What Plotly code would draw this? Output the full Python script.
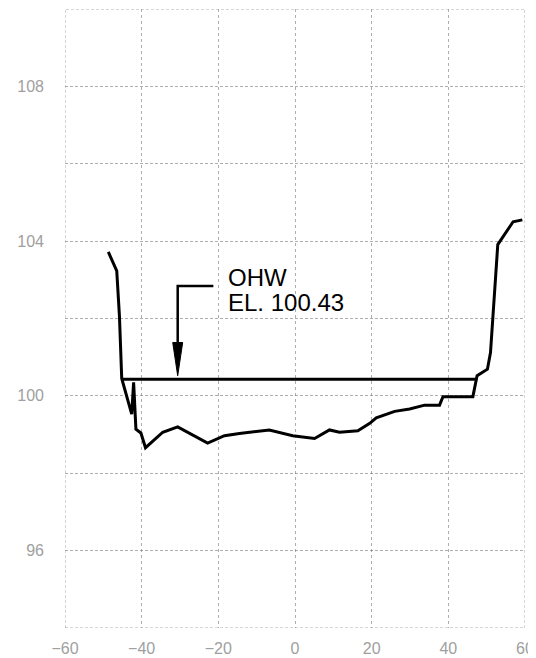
import plotly.graph_objects as go

# ---- data ----
ground_x = [-48.7, -46.5, -45.8, -45.2, -42.6, -42.1, -41.5, -40.2, -39.0, -34.5, -30.6,
            -22.8, -18.4, -14.5, -6.7, -0.6, 5.1, 9.0, 11.6, 16.4, 19.5, 21.2, 26.0,
            29.9, 33.8, 37.7, 38.6, 46.4, 47.5, 50.2, 51.0, 52.9, 56.9, 59.3]
ground_y = [103.72, 103.23, 102.07, 100.45, 99.53, 100.35, 99.14, 99.04, 98.66, 99.06, 99.2,
            98.78, 98.97, 99.03, 99.12, 98.97, 98.9, 99.12, 99.06, 99.1, 99.29, 99.43, 99.6,
            99.66, 99.76, 99.76, 99.98, 99.98, 100.52, 100.69, 101.12, 103.91, 104.5, 104.55]

ohw_elev = 100.43
ohw_x = [-45.2, 47.5]

x_ticks = [-60, -40, -20, 0, 20, 40, 60]
y_grid = [94, 96, 98, 100, 102, 104, 106, 108, 110]
y_labels = ["", "96", "", "100", "", "104", "", "108", ""]

label_lines = ["OHW", "EL. 100.43"]
label_x = -18.0
label_y = [103.07, 102.41]

# leader arrow geometry (data units)
leader_x = [-21.3, -30.6, -30.6]
leader_y = [102.84, 102.84, 101.3]
head_x = [-31.9, -29.3, -30.6, -31.9]
head_y = [101.38, 101.38, 100.52, 101.38]

GRID = "rgba(120,120,120,0.6)"
TICKFONT = dict(family="Liberation Sans, Arial, sans-serif", size=16, color="#a0a0a0")

# the page body has a default 8px margin; the figure is sized to compensate
fig = go.Figure()

fig.add_trace(go.Scatter(x=ground_x, y=ground_y, mode="lines",
                         line=dict(color="black", width=3), hoverinfo="skip"))
fig.add_trace(go.Scatter(x=ohw_x, y=[ohw_elev, ohw_elev], mode="lines",
                         line=dict(color="black", width=3), hoverinfo="skip"))
fig.add_trace(go.Scatter(x=leader_x, y=leader_y, mode="lines",
                         line=dict(color="black", width=2.5), hoverinfo="skip"))
fig.add_trace(go.Scatter(x=head_x, y=head_y, mode="lines", fill="toself",
                         fillcolor="black", line=dict(color="black", width=1),
                         hoverinfo="skip"))

for txt, yy in zip(label_lines, label_y):
    fig.add_annotation(x=label_x, y=yy, text=txt, showarrow=False,
                       xanchor="left", yanchor="middle",
                       font=dict(family="Liberation Sans, Arial, sans-serif",
                                 size=24, color="black"))

# dotted frame
fig.add_shape(type="rect", xref="x", yref="y", x0=-60, x1=60, y0=94, y1=110,
              line=dict(color=GRID, width=1, dash="3px,2px"), layer="below")

fig.update_layout(
    width=528, height=650,
    margin=dict(l=57, r=11, t=1, b=30),
    paper_bgcolor="white", plot_bgcolor="white",
    showlegend=False,
)
fig.update_xaxes(range=[-60, 60], tickvals=x_ticks, showgrid=True,
                 gridcolor=GRID, griddash="dot", gridwidth=1,
                 zeroline=False, showline=False, ticks="", automargin=False,
                 tickfont=TICKFONT, ticklabelstandoff=9)
fig.update_yaxes(range=[94, 110], tickvals=y_grid, ticktext=y_labels,
                 showgrid=True, gridcolor=GRID, griddash="3px,2px", gridwidth=1,
                 zeroline=False, showline=False, ticks="", automargin=False,
                 tickfont=TICKFONT, ticklabelstandoff=20)

fig.write_html("out.html")
